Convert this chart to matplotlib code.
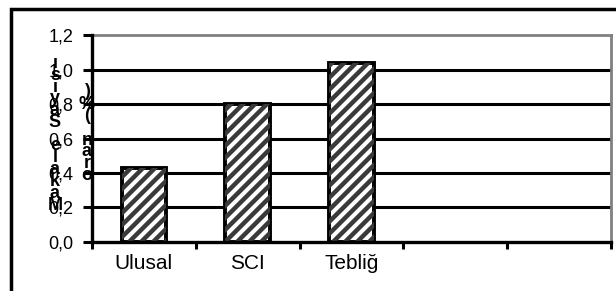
import numpy as np
import matplotlib.pyplot as plt
from matplotlib.patches import Rectangle
from matplotlib.collections import LineCollection
from matplotlib.transforms import IdentityTransform

plt.rcParams['font.family'] = ['Liberation Sans', 'DejaVu Sans']

categories = ['Ulusal', 'SCI', 'Tebliğ', '', '']
values = [0.43, 0.80, 1.04]
yticks = [0.0, 0.2, 0.4, 0.6, 0.8, 1.0, 1.2]
ylabel1 = 'Makale Sayısı'
ylabel2 = 'oran (%)'

fig = plt.figure(figsize=(6.16, 2.91), dpi=100)
ax = fig.add_axes([0.1494, 0.1684, 0.8426, 0.7113])

x = np.arange(len(categories))
bars = ax.bar(x[:len(values)], values, width=0.43, color='white', edgecolor='black',
              linewidth=2.8, zorder=3)

# diagonal stripes (wider than matplotlib's hatch), clipped to each bar
segs = [[(c, 0), (c + 400, 400)] for c in np.arange(-400, 700, 12)]
for b in bars:
    lc = LineCollection(segs, colors='#3a3a3a', linewidths=3.2,
                        transform=IdentityTransform(), zorder=3.5)
    ax.add_collection(lc, autolim=False)
    lc.set_clip_path(b)

ax.set_xlim(-0.5, len(categories) - 0.5)
ax.set_ylim(0, 1.2)
ax.set_yticks(yticks)
ax.set_yticklabels([f'{v:.1f}'.replace('.', ',') for v in yticks], fontsize=13)
for v in yticks[1:-1]:
    ax.axhline(v, color='black', lw=2.2, zorder=1)

ax.set_xticks(x)
ax.set_xticklabels(categories, fontsize=15)
ax.tick_params(axis='x', which='major', length=0, pad=9)
ax.set_xticks(np.arange(len(categories) + 1) - 0.5, minor=True)
ax.tick_params(axis='x', which='minor', length=5, width=2.2, color='black')
ax.tick_params(axis='y', length=6.5, width=2.2, color='black', pad=7)

for s in ['left', 'bottom']:
    ax.spines[s].set_linewidth(2.4)
    ax.spines[s].set_color('black')
    ax.spines[s].set_zorder(4)
for s in ['top', 'right']:
    ax.spines[s].set_linewidth(2)
    ax.spines[s].set_color('#808080')

# stacked upright letters, as in the original
for i, ch in enumerate(ylabel1):
    fig.text(55 / 616, 1 - (205 - i * 11.8) / 291, ch, ha='center', va='center',
             fontsize=13, fontweight='bold')
for i, ch in enumerate(ylabel2):
    fig.text(87 / 616, 1 - (176 - i * 12) / 291, ch, ha='center', va='center',
             fontsize=13, fontweight='bold')

fig.patches.append(Rectangle((11 / 616, -0.1), 1.1, 1 - 9 / 291 + 0.1,
                             transform=fig.transFigure, fill=False,
                             edgecolor='black', linewidth=2.5))

fig.savefig('out.png', dpi=100)
